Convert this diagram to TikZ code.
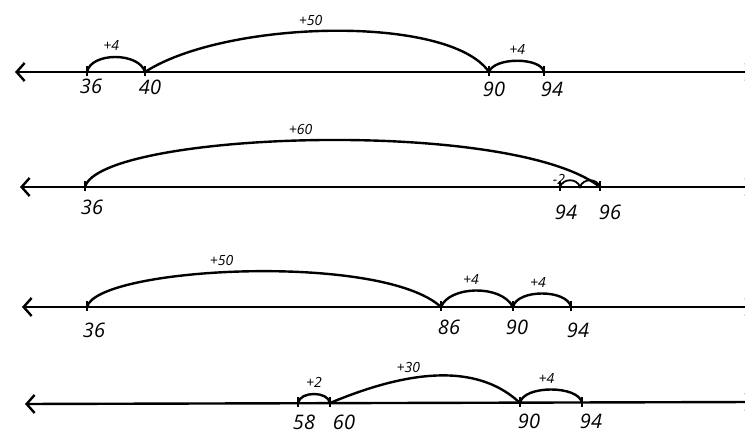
\documentclass[tikz,border=0pt]{standalone}
\usepackage{fontspec}
\setmainfont{Open Sans}
\usetikzlibrary{arrows.meta,positioning}
\tikzset{
  barb/.tip={Straight Barb[length=8pt,width=18pt]},
  numline/.style={line width=2.4pt, barb-barb},
  tickmark/.style={line width=2.2pt},
  hop/.style={line width=2.4pt, line cap=round},
  hoplbl/.style={font=\fontsize{14}{14}\selectfont\itshape, inner sep=1pt, above=4pt},
  numlbl/.style={font=\fontsize{20}{20}\selectfont\itshape, inner sep=0pt},
}

\begin{document}
\begin{tikzpicture}[x=1pt, y=-1pt]
  \clip (0,0) rectangle (745,435);

  % row 1: 36 +4 40 +50 90 +4 94
  \coordinate (l1) at (15,72);
  \coordinate (r1) at (755,72);
  \draw[numline] (l1) -- (r1);
  \foreach \v/\x/\dx/\dy in {36/87/4/7, 40/145/5/8, 90/489/5/10, 94/544/8/10} {
    \coordinate (p1-\v) at (\x,72);
    \draw[tickmark] (p1-\v) ++(0,-6) -- ++(0,10);
    \node[numlbl, below=\dy pt of p1-\v, xshift=\dx pt] (n1-\v) {\v};
  }
  \draw[hop] (p1-36) .. controls +(4,-20) and +(-6,-20) .. (p1-40) node[hoplbl, pos=0.45] {+4};
  \draw[hop] (p1-40) .. controls +(80,-52) and +(-40,-58) .. (p1-90) node[hoplbl, pos=0.45] {+50};
  \draw[hop] (p1-90) .. controls +(5,-15) and +(-3,-15) .. (p1-94) node[hoplbl, pos=0.5] {+4};

  % row 2: 36 +60 96 -2 94
  \coordinate (l2) at (20,187);
  \coordinate (r2) at (755,187);
  \draw[numline] (l2) -- (r2);
  \foreach \v/\x/\dx/\dy in {36/85/7/13, 94/560/6/18, 96/600/10/18} {
    \coordinate (p2-\v) at (\x,187);
    \draw[tickmark] (p2-\v) ++(0,-6) -- ++(0,10);
    \node[numlbl, below=\dy pt of p2-\v, xshift=\dx pt] (n2-\v) {\v};
  }
  \coordinate (p2-mid) at (580,187);
  \draw[hop] (p2-36) .. controls +(15,-55) and +(-90,-70) .. (p2-96) node[hoplbl, pos=0.48] {+60};
  \draw[hop, line width=1.8pt] (p2-96) .. controls +(-3,-9) and +(3,-9) .. (p2-mid)
    .. controls +(-3,-9) and +(3,-9) .. (p2-94);
  \node[hoplbl, above=1pt of p2-94, xshift=-1pt] (m2) {-2};

  % row 3: 36 +50 86 +4 90 +4 94
  \coordinate (l3) at (22,307);
  \coordinate (r3) at (755,307);
  \draw[numline] (l3) -- (r3);
  \foreach \v/\x/\dx/\dy in {36/87/7/16, 86/441/8/13, 90/513/4/13, 94/571/7/16} {
    \coordinate (p3-\v) at (\x,307);
    \draw[tickmark] (p3-\v) ++(0,-6) -- ++(0,10);
    \node[numlbl, below=\dy pt of p3-\v, xshift=\dx pt] (n3-\v) {\v};
  }
  \draw[hop] (p3-36) .. controls +(10,-40) and +(-60,-55) .. (p3-86) node[hoplbl, pos=0.45] {+50};
  \draw[hop] (p3-86) .. controls +(8,-21) and +(-12,-23) .. (p3-90) node[hoplbl, pos=0.45] {+4};
  \draw[hop] (p3-90) .. controls +(4,-18) and +(-4,-18) .. (p3-94) node[hoplbl, pos=0.45] {+4};

  % row 4: 58 +2 60 +30 90 +4 94
  \coordinate (l4) at (25,404);
  \coordinate (r4) at (755,402);
  \draw[numline] (l4) -- (r4);
  \foreach \v/\x/\dx/\dy in {58/298/6/12, 60/330/14/12, 90/520/9/11, 94/582/9/11} {
    \coordinate (p4-\v) at (\x,403);
    \draw[tickmark] (p4-\v) ++(0,-6) -- ++(0,10);
    \node[numlbl, below=\dy pt of p4-\v, xshift=\dx pt] (n4-\v) {\v};
  }
  \draw[hop] (p4-58) .. controls +(2,-12) and +(-2,-12) .. (p4-60) node[hoplbl, pos=0.5] {+2};
  \draw[hop] (p4-60) .. controls +(60,-25) and +(-50,-47) .. (p4-90) node[hoplbl, pos=0.4] {+30};
  \draw[hop] (p4-90) .. controls +(3,-18) and +(-3,-18) .. (p4-94) node[hoplbl, pos=0.45] {+4};
\end{tikzpicture}
\end{document}
